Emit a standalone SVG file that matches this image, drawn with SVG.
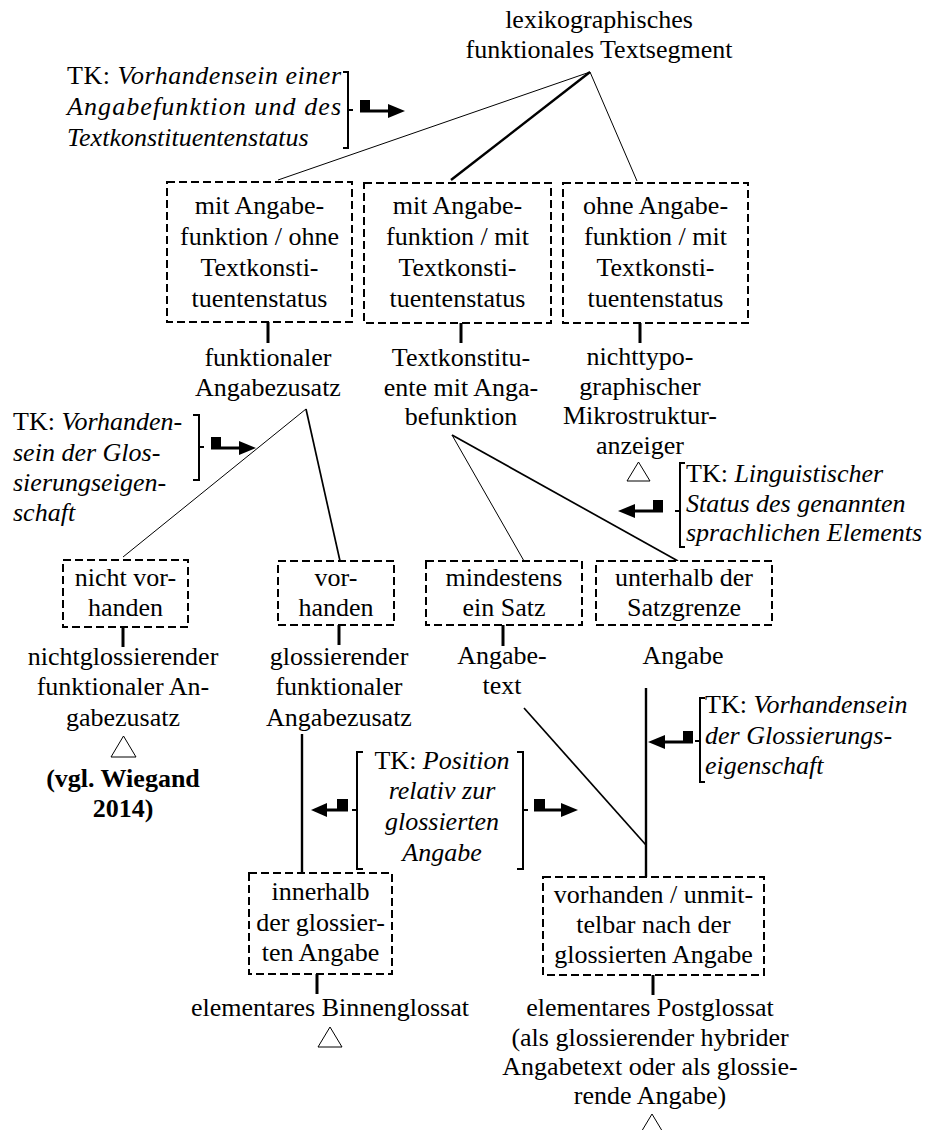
<svg xmlns="http://www.w3.org/2000/svg" width="927" height="1130" viewBox="0 0 927 1130">
  <style>
    .t { font-family: "Liberation Serif", "Times New Roman", serif; font-size: 26px; fill: #000; }
    .c { text-anchor: middle; }
    .i { font-style: italic; }
    .b { font-weight: bold; }
    .box { fill: #fff; stroke: #000; stroke-width: 2; stroke-dasharray: 8 4; }
    .ln { stroke: #000; fill: none; }
    .w1 { stroke-width: 1; }
    .w2 { stroke-width: 1.7; }
    .w3 { stroke-width: 2.4; }
    .stem { stroke: #000; stroke-width: 3; }
    .br { stroke: #000; stroke-width: 2; fill: none; }
    .tri { fill: #fff; stroke: #000; stroke-width: 1; }
  </style>
  <defs>
    <!-- criterion arrow: small square on the shaft, pointing right -->
    <g id="tk-right">
      <rect x="0" y="-11" width="10" height="11" fill="#000"/>
      <line x1="0" y1="0" x2="30" y2="0" stroke="#000" stroke-width="3"/>
      <polygon points="28,-7 45,0 28,7" fill="#000"/>
    </g>
    <g id="tk-left">
      <rect x="-10" y="-11" width="10" height="11" fill="#000"/>
      <line x1="0" y1="0" x2="-30" y2="0" stroke="#000" stroke-width="3"/>
      <polygon points="-28,-7 -45,0 -28,7" fill="#000"/>
    </g>
  </defs>

  <!-- connectors -->
  <g id="connectors">
    <line class="ln w1" x1="590" y1="72" x2="278" y2="180"/>
    <line class="ln w3" x1="590" y1="72" x2="451" y2="180"/>
    <line class="ln w1" x1="590" y1="72" x2="637" y2="181"/>

    <line class="stem" x1="268" y1="322" x2="268" y2="343"/>
    <line class="stem" x1="461" y1="323" x2="461" y2="343"/>
    <line class="stem" x1="640" y1="323" x2="640" y2="343"/>

    <line class="ln w1" x1="306" y1="409" x2="123" y2="557"/>
    <line class="ln w2" x1="306" y1="409" x2="340" y2="561"/>
    <line class="ln w1" x1="452" y1="435" x2="524" y2="561"/>
    <line class="ln w2" x1="452" y1="435" x2="678" y2="561"/>

    <line class="stem" x1="123" y1="627" x2="123" y2="647"/>
    <line class="stem" x1="339" y1="625" x2="339" y2="645"/>
    <line class="stem" x1="503" y1="625" x2="503" y2="646"/>

    <line class="ln w3" x1="302" y1="734" x2="302" y2="873"/>
    <line class="ln w3" x1="646" y1="688" x2="646" y2="877"/>
    <line class="ln w2" x1="524" y1="708" x2="646" y2="845"/>

    <line class="stem" x1="317" y1="974" x2="317" y2="994"/>
    <line class="stem" x1="653" y1="975" x2="653" y2="995"/>
  </g>

  <!-- root -->
  <g id="root">
    <text class="t c" x="599" y="28">lexikographisches</text>
    <text class="t c" x="599" y="58">funktionales Textsegment</text>
  </g>

  <!-- first criterion -->
  <g id="tk1">
    <text class="t" x="67" y="84" textLength="274" lengthAdjust="spacing">TK: <tspan class="i">Vorhandensein einer</tspan></text>
    <text class="t i" x="67" y="115" textLength="274" lengthAdjust="spacing">Angabefunktion und des</text>
    <text class="t i" x="67" y="146">Textkonstituentenstatus</text>
    <path class="br" d="M343,72 H348 V148 H343 M348,110 H353"/>
    <use href="#tk-right" x="360" y="111"/>
  </g>

  <!-- first level -->
  <g id="box-a">
    <rect class="box" x="167" y="182" width="185" height="140"/>
    <text class="t c" x="259.5" y="214">mit Angabe-</text>
    <text class="t c" x="259.5" y="245">funktion / ohne</text>
    <text class="t c" x="259.5" y="276">Textkonsti-</text>
    <text class="t c" x="259.5" y="307">tuentenstatus</text>
  </g>
  <g id="box-b">
    <rect class="box" x="364" y="183" width="187" height="140"/>
    <text class="t c" x="457.5" y="214">mit Angabe-</text>
    <text class="t c" x="457.5" y="245">funktion / mit</text>
    <text class="t c" x="457.5" y="276">Textkonsti-</text>
    <text class="t c" x="457.5" y="307">tuentenstatus</text>
  </g>
  <g id="box-c">
    <rect class="box" x="563" y="183" width="185" height="140"/>
    <text class="t c" x="655.5" y="214">ohne Angabe-</text>
    <text class="t c" x="655.5" y="245">funktion / mit</text>
    <text class="t c" x="655.5" y="276">Textkonsti-</text>
    <text class="t c" x="655.5" y="307">tuentenstatus</text>
  </g>

  <g id="funktionaler-angabezusatz">
    <text class="t c" x="268" y="366">funktionaler</text>
    <text class="t c" x="268" y="396">Angabezusatz</text>
  </g>
  <g id="textkonstituente">
    <text class="t c" x="461" y="366">Textkonstitu-</text>
    <text class="t c" x="461" y="396">ente mit Anga-</text>
    <text class="t c" x="461" y="425">befunktion</text>
  </g>
  <g id="mikrostrukturanzeiger">
    <text class="t c" x="640" y="365">nichttypo-</text>
    <text class="t c" x="640" y="395">graphischer</text>
    <text class="t c" x="640" y="424">Mikrostruktur-</text>
    <text class="t c" x="640" y="454">anzeiger</text>
    <polygon class="tri" points="638.5,462 650,481 627,481"/>
  </g>

  <!-- second criterion -->
  <g id="tk2">
    <text class="t" x="13" y="430">TK: <tspan class="i">Vorhanden-</tspan></text>
    <text class="t i" x="13" y="461">sein der Glos-</text>
    <text class="t i" x="13" y="491">sierungseigen-</text>
    <text class="t i" x="13" y="521">schaft</text>
    <path class="br" d="M193,415 H199 V480 H193 M199,447 H204"/>
    <use href="#tk-right" x="211" y="448"/>
  </g>

  <!-- third criterion -->
  <g id="tk3">
    <text class="t" x="686" y="482">TK: <tspan class="i">Linguistischer</tspan></text>
    <text class="t i" x="686" y="512">Status des genannten</text>
    <text class="t i" x="686" y="541">sprachlichen Elements</text>
    <path class="br" d="M685,463 H680 V547 H685 M680,511 H675"/>
    <use href="#tk-left" x="663" y="511"/>
  </g>

  <!-- second level -->
  <g id="box-nicht-vorhanden">
    <rect class="box" x="63" y="560" width="125" height="67"/>
    <text class="t c" x="125.5" y="586">nicht vor-</text>
    <text class="t c" x="125.5" y="616">handen</text>
  </g>
  <g id="box-vorhanden">
    <rect class="box" x="278" y="561" width="116" height="64"/>
    <text class="t c" x="336" y="586">vor-</text>
    <text class="t c" x="336" y="616">handen</text>
  </g>
  <g id="box-mindestens">
    <rect class="box" x="426" y="561" width="156" height="64"/>
    <text class="t c" x="504" y="586">mindestens</text>
    <text class="t c" x="504" y="616">ein Satz</text>
  </g>
  <g id="box-unterhalb">
    <rect class="box" x="596" y="561" width="176" height="64"/>
    <text class="t c" x="684" y="586">unterhalb der</text>
    <text class="t c" x="684" y="616">Satzgrenze</text>
  </g>

  <g id="nichtglossierender">
    <text class="t c" x="123" y="665">nichtglossierender</text>
    <text class="t c" x="123" y="695">funktionaler An-</text>
    <text class="t c" x="123" y="726">gabezusatz</text>
    <polygon class="tri" points="123.5,736 136,757 111,757"/>
    <text class="t c b" x="123" y="787">(vgl. Wiegand</text>
    <text class="t c b" x="123" y="817">2014)</text>
  </g>
  <g id="glossierender">
    <text class="t c" x="339" y="665">glossierender</text>
    <text class="t c" x="339" y="695">funktionaler</text>
    <text class="t c" x="339" y="726">Angabezusatz</text>
  </g>
  <g id="angabetext">
    <text class="t c" x="502" y="664">Angabe-</text>
    <text class="t c" x="502" y="694">text</text>
  </g>
  <g id="angabe">
    <text class="t c" x="683" y="664">Angabe</text>
  </g>

  <!-- fourth criterion -->
  <g id="tk4">
    <text class="t" x="705" y="713">TK: <tspan class="i">Vorhandensein</tspan></text>
    <text class="t i" x="705" y="744">der Glossierungs-</text>
    <text class="t i" x="705" y="774">eigenschaft</text>
    <path class="br" d="M705,698 H700 V782 H705 M700,741 H695"/>
    <use href="#tk-left" x="693" y="742"/>
  </g>

  <!-- fifth criterion -->
  <g id="tk5">
    <text class="t c" x="442" y="769">TK: <tspan class="i">Position</tspan></text>
    <text class="t c i" x="442" y="799">relativ zur</text>
    <text class="t c i" x="442" y="830">glossierten</text>
    <text class="t c i" x="442" y="861">Angabe</text>
    <path class="br" d="M363,752 H357 V869 H363 M357,810 H352"/>
    <path class="br" d="M517,752 H523 V869 H517 M523,810 H528"/>
    <rect x="337" y="799" width="11" height="11"/>
    <line x1="326" y1="810" x2="348" y2="810" stroke="#000" stroke-width="3"/>
    <polygon points="327,803 311,810 327,817"/>
    <rect x="534" y="799" width="11" height="11"/>
    <line x1="534" y1="810" x2="563" y2="810" stroke="#000" stroke-width="3"/>
    <polygon points="561,803 578,810 561,817"/>
  </g>

  <!-- third level -->
  <g id="box-innerhalb">
    <rect class="box" x="249" y="873" width="143" height="101"/>
    <text class="t c" x="320.5" y="900">innerhalb</text>
    <text class="t c" x="320.5" y="931">der glossier-</text>
    <text class="t c" x="320.5" y="961">ten Angabe</text>
  </g>
  <g id="box-unmittelbar">
    <rect class="box" x="543" y="877" width="221" height="98"/>
    <text class="t c" x="653.5" y="903">vorhanden / unmit-</text>
    <text class="t c" x="653.5" y="933">telbar nach der</text>
    <text class="t c" x="653.5" y="963">glossierten Angabe</text>
  </g>

  <g id="binnenglossat">
    <text class="t c" x="330" y="1016">elementares Binnenglossat</text>
    <polygon class="tri" points="330,1027 342,1047 318,1047"/>
  </g>
  <g id="postglossat">
    <text class="t c" x="650" y="1016">elementares Postglossat</text>
    <text class="t c" x="650" y="1046">(als glossierender hybrider</text>
    <text class="t c" x="650" y="1075">Angabetext oder als glossie-</text>
    <text class="t c" x="650" y="1104">rende Angabe)</text>
    <polygon class="tri" points="652,1114 664,1134 640,1134"/>
  </g>
</svg>
